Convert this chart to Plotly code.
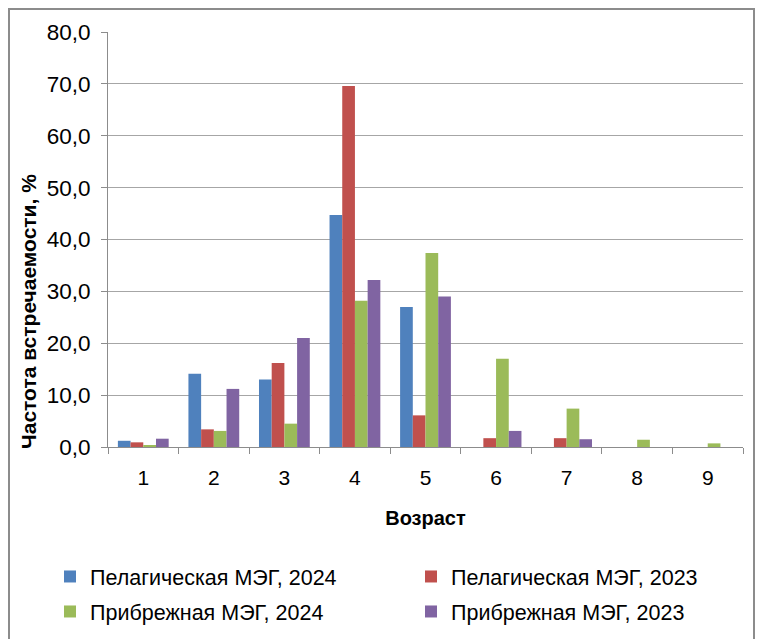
import plotly.graph_objects as go

# Age classes and occurrence frequency (%) per group
ages = ["1", "2", "3", "4", "5", "6", "7", "8", "9"]
pelagic_2024 = [1.2, 14.1, 13.0, 44.7, 27.0, 0.0, 0.0, 0.0, 0.0]
pelagic_2023 = [0.9, 3.4, 16.2, 69.6, 6.1, 1.7, 1.7, 0.0, 0.0]
coastal_2024 = [0.2, 3.1, 4.5, 28.2, 37.4, 17.0, 7.4, 1.4, 0.7]
coastal_2023 = [1.6, 11.2, 21.0, 32.2, 29.0, 3.1, 1.5, 0.0, 0.0]

W, H = 760, 639
L, R, T, B = 108, 17, 32, 192
pw, ph = W - L - R, H - T - B

def px_x(x):
    return (x - L) / pw

def px_y(y):
    return (H - B - y) / ph

# name, values, colour, legend id, legend anchor (px)
series = [
    ("Пелагическая МЭГ, 2024", pelagic_2024, "#4F81BD", "legend2", (50, 556)),
    ("Пелагическая МЭГ, 2023", pelagic_2023, "#C0504D", "legend3", (411, 556)),
    ("Прибрежная МЭГ, 2024", coastal_2024, "#9BBB59", "legend4", (50, 591)),
    ("Прибрежная МЭГ, 2023", coastal_2023, "#8064A2", "legend5", (411, 591)),
]

fig = go.Figure()
legends = {}
for name, vals, color, leg, (lx, ly) in series:
    fig.add_trace(go.Bar(x=ages, y=vals, name=name, marker_color=color,
                         marker_line_width=0, legend=leg, showlegend=True))
    legends[leg] = dict(x=px_x(lx), y=px_y(ly), xanchor="left", yanchor="top",
                        orientation="h", font=dict(size=21.5), itemwidth=30,
                        bgcolor="rgba(0,0,0,0)", visible=True)

font = "Liberation Sans"
fig.update_layout(
    width=W, height=H,
    margin=dict(l=L, r=R, t=T, b=B, autoexpand=False),
    paper_bgcolor="white", plot_bgcolor="white",
    separators=", ",
    showlegend=True,
    barmode="group", bargap=0.28, bargroupgap=0,
    font=dict(family=font, size=21, color="#000000"),
    xaxis=dict(type="category", showline=True, linecolor="#8c8c8c", linewidth=1,
               ticks="outside", tickson="boundaries", ticklen=6, tickcolor="#8c8c8c",
               tickfont=dict(size=21), automargin=False, ticklabelstandoff=12,
               title=dict(text="<b>Возраст</b>", font=dict(size=20), standoff=22)),
    yaxis=dict(range=[0, 80], dtick=10, tickformat=".1f", showline=True,
               linecolor="#8c8c8c", linewidth=1, ticks="outside", ticklen=6,
               tickcolor="#8c8c8c", showgrid=True, gridcolor="#a6a6a6", gridwidth=1,
               tickfont=dict(size=22.5), zeroline=False, automargin=False,
               ticklabelstandoff=6),
    annotations=[dict(text="<b>Частота встречаемости, %</b>", textangle=-90,
                      x=px_x(28), y=px_y(312), xref="paper", yref="paper",
                      xanchor="center", yanchor="middle",
                      showarrow=False, font=dict(size=21))],
    shapes=[dict(type="rect", xref="paper", yref="paper",
                 x0=px_x(9), x1=px_x(754), y0=px_y(660), y1=px_y(9),
                 line=dict(color="#8c8c8c", width=2), fillcolor="rgba(0,0,0,0)",
                 layer="below")],
    **legends,
)

fig.write_html("out.html")
